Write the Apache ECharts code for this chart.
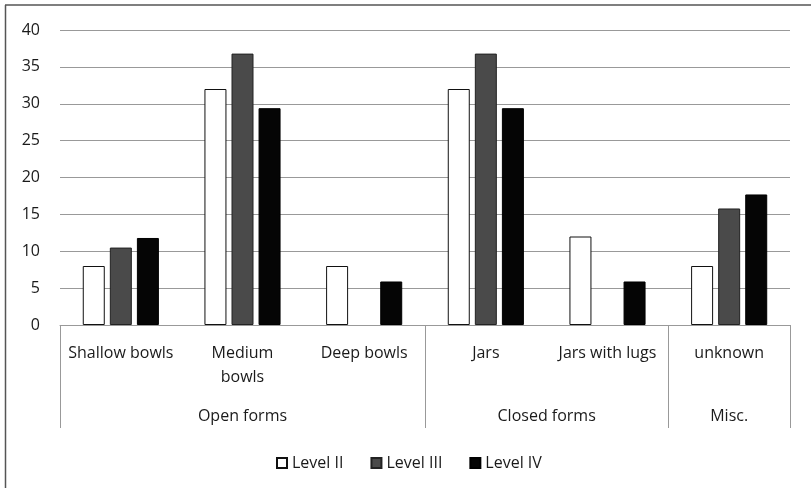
<!DOCTYPE html>
<html>
<head>
<meta charset="utf-8">
<script src="https://cdn.jsdelivr.net/npm/echarts@6/dist/echarts.min.js"></script>
<style>
html,body{margin:0;padding:0;background:#fff;}
#chart{width:811px;height:488px;}
</style>
</head>
<body>
<div id="chart"></div>
<script>
var categories = ['Shallow bowls', 'Medium bowls', 'Deep bowls', 'Jars', 'Jars with lugs', 'unknown'];
var groups = ['Open forms', 'Closed forms', 'Misc.'];
var groupSpans = [3, 2, 1];
var seriesNames = ['Level II', 'Level III', 'Level IV'];
var levelII = [8, 32, 8, 32, 12, 8];
var levelIII = [10.5, 36.8, null, 36.8, null, 15.8];
var levelIV = [11.8, 29.4, 5.9, 29.4, 5.9, 17.7];
var yTicks = [0, 5, 10, 15, 20, 25, 30, 35, 40];

var boundaries = [0];
var centers = [];
var acc = 0;
groupSpans.forEach(function (s) { centers.push(acc + s / 2); acc += s; boundaries.push(acc); });

var FONT = 'Open Sans';
var FS = 16;
var TXT = '#1a1a1a';
var chart = echarts.init(document.getElementById('chart'));
var barCommon = { type: 'bar', barWidth: 22, barGap: '23%', xAxisIndex: 0 };
chart.setOption({
  animation: false,
  textStyle: { fontFamily: FONT },
  grid: { left: 60, right: 21, top: 30, bottom: 163 },
  legend: {
    top: 450, left: 271, icon: 'rect', itemWidth: 10, itemHeight: 10, itemGap: 27,
    textStyle: { fontSize: FS, color: TXT, fontFamily: FONT },
    data: seriesNames
  },
  xAxis: [
    {
      type: 'category', data: categories, position: 'bottom',
      axisLine: { show: true, lineStyle: { color: '#999', width: 1 } },
      axisTick: { show: false },
      axisLabel: {
        interval: 0, margin: 16, fontSize: FS, color: TXT, lineHeight: 24, fontFamily: FONT,
        formatter: function (v) { return v === 'Medium bowls' ? 'Medium\nbowls' : v; }
      },
      splitLine: { show: false }
    },
    {
      type: 'value', min: 0, max: categories.length, position: 'bottom',
      axisLine: { show: false },
      splitLine: { show: false },
      axisTick: { show: true, length: 103, customValues: boundaries, lineStyle: { color: '#999' } },
      axisLabel: {
        show: true, margin: 83, fontSize: FS, color: TXT, fontFamily: FONT,
        customValues: centers,
        formatter: function (v) {
          for (var i = 0; i < centers.length; i++) if (Math.abs(centers[i] - v) < 1e-6) return groups[i];
          return '';
        }
      }
    }
  ],
  yAxis: {
    type: 'value', min: yTicks[0], max: yTicks[yTicks.length - 1], interval: 5,
    axisLine: { show: false }, axisTick: { show: false },
    axisLabel: { fontSize: FS, color: TXT, margin: 20, fontFamily: FONT },
    splitLine: { show: true, lineStyle: { color: '#999', width: 1 } }
  },
  series: [
    Object.assign({}, barCommon, { name: seriesNames[0], data: levelII, itemStyle: { color: '#fff', borderColor: '#111', borderWidth: 1 } }),
    Object.assign({}, barCommon, { name: seriesNames[1], data: levelIII, itemStyle: { color: '#4a4a4a', borderColor: '#222', borderWidth: 1 } }),
    Object.assign({}, barCommon, { name: seriesNames[2], data: levelIV, itemStyle: { color: '#050505', borderColor: '#000', borderWidth: 1 } })
  ],
  graphic: [
    { type: 'line', shape: { x1: 5, y1: 5, x2: 811, y2: 5 }, style: { stroke: '#555', lineWidth: 1.5 } },
    { type: 'line', shape: { x1: 5.5, y1: 5, x2: 5.5, y2: 488 }, style: { stroke: '#555', lineWidth: 1.5 } }
  ]
});
</script>
</body>
</html>
